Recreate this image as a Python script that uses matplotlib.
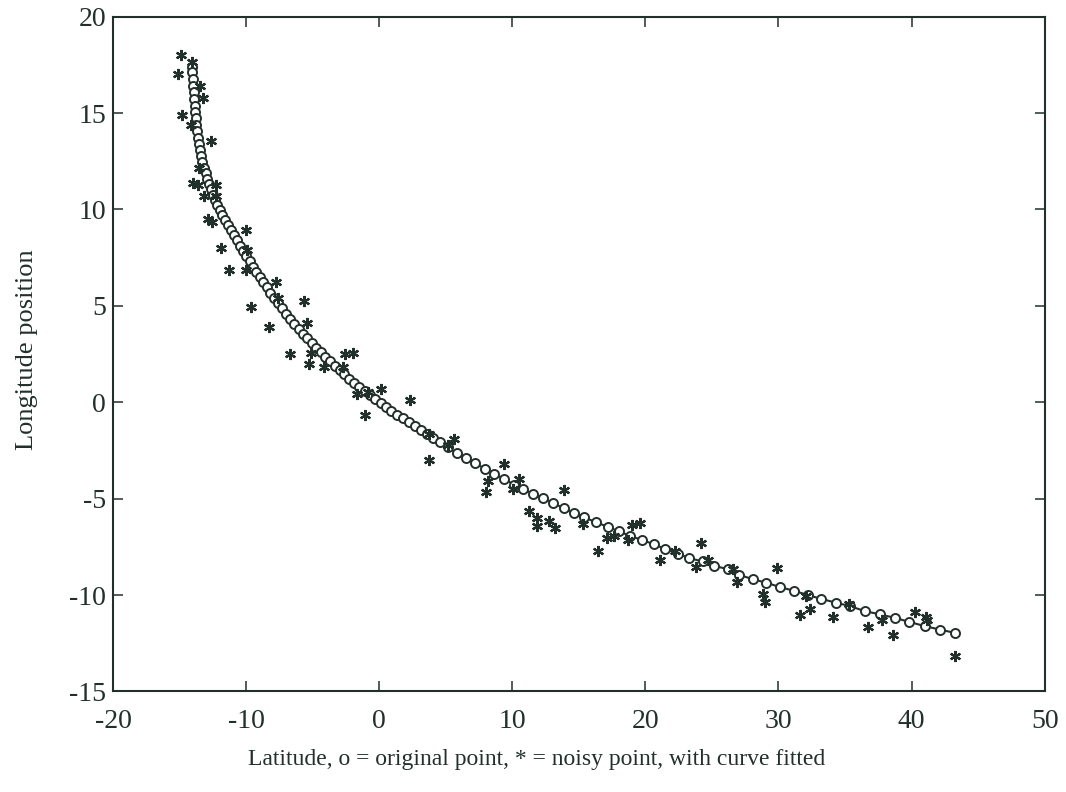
import matplotlib
matplotlib.use("Agg")
import matplotlib.pyplot as plt

plt.rcParams['font.family'] = ['Liberation Serif', 'DejaVu Serif']
plt.rcParams['axes.unicode_minus'] = False

ink = '#22302c'

# original points (o)
orig_x = [-14.04, -14.04, -13.98, -13.96, -13.93, -13.91, -13.86, -13.83, -13.78, -13.73,
          -13.66, -13.61, -13.53, -13.46, -13.36, -13.28, -13.16, -13.03, -12.91, -12.78,
          -12.63, -12.48, -12.33, -12.16, -11.98, -11.78, -11.58, -11.38, -11.15, -10.93,
          -10.70, -10.47, -10.23, -9.99, -9.74, -9.49, -9.24, -8.98, -8.72, -8.45,
          -8.17, -7.89, -7.60, -7.30, -7.00, -6.69, -6.38, -6.06, -5.74, -5.41,
          -5.08, -4.74, -4.40, -4.05, -3.70, -3.34, -2.98, -2.61, -2.24, -1.86,
          -1.48, -1.09, -0.70, -0.30, 0.10, 0.51, 0.92, 1.34, 1.77, 2.21,
          2.66, 3.12, 3.59, 4.07, 4.58, 5.14, 5.82, 6.52, 7.22, 7.95,
          8.65, 9.40, 10.10, 10.83, 11.58, 12.33, 13.08, 13.86, 14.61, 15.41,
          16.29, 17.17, 18.00, 18.85, 19.75, 20.63, 21.50, 22.43, 23.31, 24.31,
          25.19, 26.19, 27.07, 28.07, 29.07, 30.08, 31.20, 32.20, 33.21, 34.33,
          35.34, 36.47, 37.59, 38.72, 39.80, 40.98, 42.10, 43.23]
orig_y = [17.38, 17.12, 16.77, 16.42, 16.08, 15.73, 15.38, 15.03, 14.72, 14.38,
          14.08, 13.73, 13.39, 13.09, 12.78, 12.46, 12.17, 11.88, 11.60, 11.30,
          11.04, 10.75, 10.49, 10.21, 9.95, 9.69, 9.43, 9.17, 8.92, 8.66,
          8.39, 8.12, 7.85, 7.58, 7.30, 7.03, 6.77, 6.50, 6.23, 5.96,
          5.69, 5.42, 5.15, 4.87, 4.60, 4.33, 4.07, 3.81, 3.56, 3.31,
          3.07, 2.83, 2.59, 2.35, 2.12, 1.89, 1.67, 1.45, 1.23, 1.01,
          0.80, 0.59, 0.38, 0.17, -0.03, -0.24, -0.44, -0.64, -0.84, -1.04,
          -1.24, -1.44, -1.64, -1.84, -2.05, -2.33, -2.64, -2.90, -3.16, -3.46,
          -3.72, -3.98, -4.27, -4.50, -4.76, -4.97, -5.24, -5.49, -5.76, -5.97,
          -6.23, -6.46, -6.70, -6.93, -7.15, -7.36, -7.62, -7.85, -8.09, -8.26,
          -8.49, -8.66, -8.96, -9.18, -9.36, -9.58, -9.79, -10.00, -10.20, -10.40,
          -10.57, -10.83, -11.00, -11.18, -11.39, -11.61, -11.79, -11.96]

# noisy points (*)
noisy_x = [-14.91, -14.04, -15.11, -13.46, -13.21, -14.79, -14.16, -12.63, -13.53, -13.96,
           -13.59, -12.28, -13.16, -12.28, -12.83, -12.58, -10.03, -11.90, -9.90, -11.28,
           -10.03, -7.77, -7.64, -5.64, -9.65, -5.39, -8.27, -6.69, -5.14, -5.26,
           -4.14, -2.58, -2.00, -2.71, -1.63, 0.13, -0.83, -1.05, 2.31, 3.76,
           3.76, 5.59, 5.14, 9.40, 8.14, 8.02, 10.53, 10.03, 13.86, 11.23,
           11.83, 11.83, 12.78, 13.23, 15.29, 16.47, 17.10, 17.67, 18.67, 18.97,
           19.60, 21.10, 22.23, 24.18, 24.69, 23.81, 26.57, 26.87, 29.90, 28.82,
           29.02, 31.58, 32.38, 32.08, 34.08, 35.29, 36.72, 38.60, 37.80, 40.23,
           41.05, 41.15, 43.23]
noisy_y = [18.02, 17.67, 17.03, 16.39, 15.78, 14.90, 14.38, 13.56, 12.17, 11.35,
           11.28, 11.27, 10.69, 10.69, 9.48, 9.34, 8.92, 8.00, 7.88, 6.88,
           6.88, 6.21, 5.40, 5.26, 4.93, 4.10, 3.89, 2.48, 2.57, 1.98,
           1.81, 2.50, 2.54, 1.84, 0.42, 0.68, 0.54, -0.68, 0.10, -3.02,
           -1.67, -1.89, -2.24, -3.19, -4.10, -4.67, -3.98, -4.50, -4.53, -5.63,
           -6.01, -6.41, -6.15, -6.53, -6.32, -7.74, -7.05, -6.93, -7.15, -6.35,
           -6.29, -8.18, -7.74, -7.31, -8.18, -8.54, -8.66, -9.32, -8.58, -9.96,
           -10.35, -11.04, -10.75, -10.05, -11.15, -10.49, -11.67, -12.05, -11.30, -10.87,
           -11.15, -11.32, -13.18]

x_ticks = [-20, -10, 0, 10, 20, 30, 40, 50]
y_ticks = [-15, -10, -5, 0, 5, 10, 15, 20]

fig = plt.figure(figsize=(10.66, 7.92), dpi=100)
ax = fig.add_axes([0.106, 0.127, 0.874, 0.852])

ax.plot(orig_x, orig_y, '-', color=ink, linewidth=1.5)
ax.plot(orig_x, orig_y, 'o', markersize=6.5, markerfacecolor='white',
        markeredgecolor=ink, markeredgewidth=1.4)
# matlab-style asterisk
ax.plot(noisy_x, noisy_y, marker=(6, 2, 0), markersize=8, markeredgewidth=1.6,
        color=ink, linestyle='none')

ax.set_xlim(-20, 50)
ax.set_ylim(-15, 20)
ax.set_xticks(x_ticks)
ax.set_yticks(y_ticks)
ax.tick_params(direction='in', length=7, width=1.1, colors=ink,
               top=True, right=True, labelsize=20)
ax.tick_params(axis='x', pad=13)
ax.tick_params(axis='y', pad=5)
for s in ax.spines.values():
    s.set_color(ink)
    s.set_linewidth(1.5)

ax.set_xlabel('Latitude, o = original point, * = noisy point, with curve fitted',
              fontsize=17, color=ink)
ax.set_ylabel('Longitude position', fontsize=19, color=ink)
ax.xaxis.set_label_coords(0.455, -0.085)
ax.yaxis.set_label_coords(-0.08, 0.507)

fig.savefig('out.png', dpi=100)
